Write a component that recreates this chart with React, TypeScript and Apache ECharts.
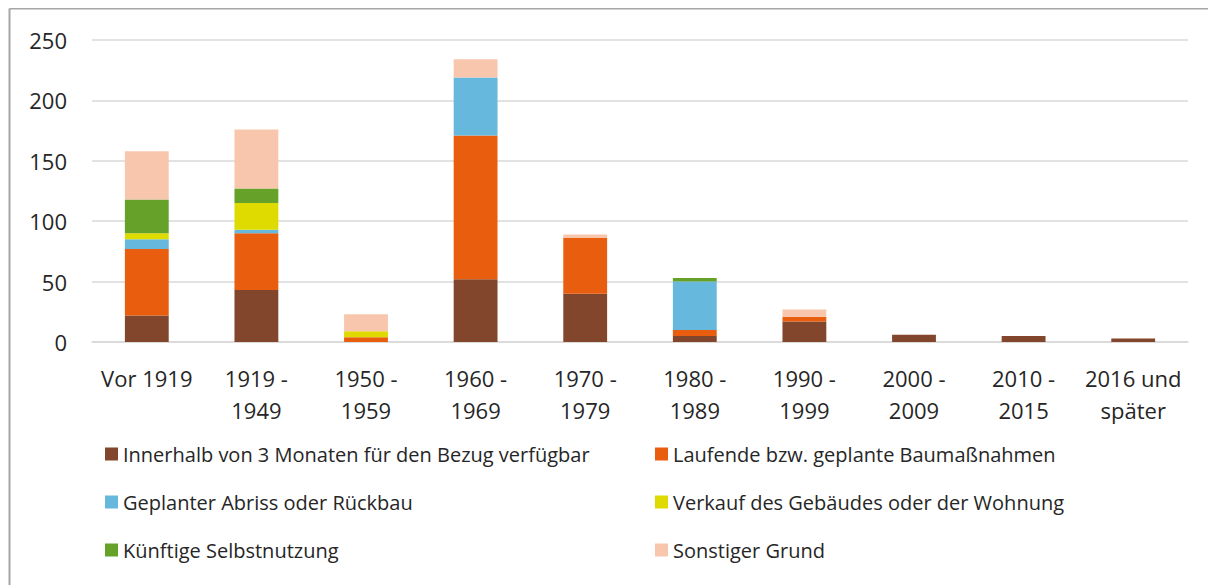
import React, { useEffect, useRef } from "react";
import * as echarts from "echarts";

const categories = [
  "Vor 1919",
  "1919 -\n1949",
  "1950 -\n1959",
  "1960 -\n1969",
  "1970 -\n1979",
  "1980 -\n1989",
  "1990 -\n1999",
  "2000 -\n2009",
  "2010 -\n2015",
  "2016 und\nspäter",
];

const seriesNames = [
  "Innerhalb von 3 Monaten für den Bezug verfügbar",
  "Laufende bzw. geplante Baumaßnahmen",
  "Geplanter Abriss oder Rückbau",
  "Verkauf des Gebäudes oder der Wohnung",
  "Künftige Selbstnutzung",
  "Sonstiger Grund",
];

const verfuegbar = [22, 43, 0, 52, 40, 5, 17, 6, 5, 3];
const baumassnahmen = [55, 47, 4, 119, 46, 5, 4, 0, 0, 0];
const abriss = [8, 3, 0, 48, 0, 40, 0, 0, 0, 0];
const verkauf = [5, 22, 5, 0, 0, 0, 0, 0, 0, 0];
const selbstnutzung = [28, 12, 0, 0, 0, 3, 0, 0, 0, 0];
const sonstiger = [40, 49, 14, 15, 3, 0, 6, 0, 0, 0];

const yTicks = { min: 0, max: 250, interval: 50 };

const colors = ["#82462D", "#E95D0F", "#66B8DD", "#DFDB00", "#66A22A", "#F8C6AC"];

const FONT = "'Open Sans', sans-serif";

export default function App() {
  const ref = useRef<HTMLDivElement>(null);
  useEffect(() => {
    if (!ref.current) return;
    const chart = echarts.init(ref.current, null, { renderer: "svg" });
    const values = [verfuegbar, baumassnahmen, abriss, verkauf, selbstnutzung, sonstiger];
    const legendStyle = {
      orient: "vertical" as const,
      top: 429,
      itemWidth: 13,
      itemHeight: 13,
      itemGap: 24,
      icon: "rect",
      textStyle: { fontFamily: FONT, fontSize: 20, color: "#262626", lineHeight: 24 },
    };
    chart.setOption({
      animation: false,
      color: colors,
      graphic: [
        {
          type: "line",
          shape: { x1: 1.5, y1: 0.5, x2: 1300, y2: 0.5 },
          style: { stroke: "#A6A6A6", lineWidth: 2 },
        },
        {
          type: "line",
          shape: { x1: 1.5, y1: 0.5, x2: 1.5, y2: 700 },
          style: { stroke: "#A6A6A6", lineWidth: 2 },
        },
      ],
      grid: { left: 84, right: 28, top: 32, bottom: 243, containLabel: false },
      legend: [
        { ...legendStyle, left: 92, data: [seriesNames[0], seriesNames[2], seriesNames[4]] },
        { ...legendStyle, left: 642, data: [seriesNames[1], seriesNames[3], seriesNames[5]] },
      ],
      xAxis: {
        type: "category",
        data: categories,
        axisTick: { show: false },
        axisLine: { lineStyle: { color: "#D9D9D9", width: 1.5 } },
        axisLabel: {
          interval: 0,
          margin: 20,
          fontFamily: FONT,
          fontSize: 22,
          lineHeight: 32,
          color: "#262626",
          verticalAlign: "top",
        },
      },
      yAxis: {
        type: "value",
        ...yTicks,
        axisLine: { show: false },
        axisTick: { show: false },
        splitLine: { lineStyle: { color: "#D9D9D9", width: 1.5 } },
        axisLabel: { fontFamily: FONT, fontSize: 22, color: "#262626", margin: 25 },
      },
      series: seriesNames.map((name, i) => ({
        name,
        type: "bar",
        stack: "total",
        barWidth: "40%",
        data: values[i],
        itemStyle: { color: colors[i] },
      })),
    });
    return () => chart.dispose();
  }, []);
  return <div ref={ref} style={{ width: 1208, height: 577 }} />;
}
